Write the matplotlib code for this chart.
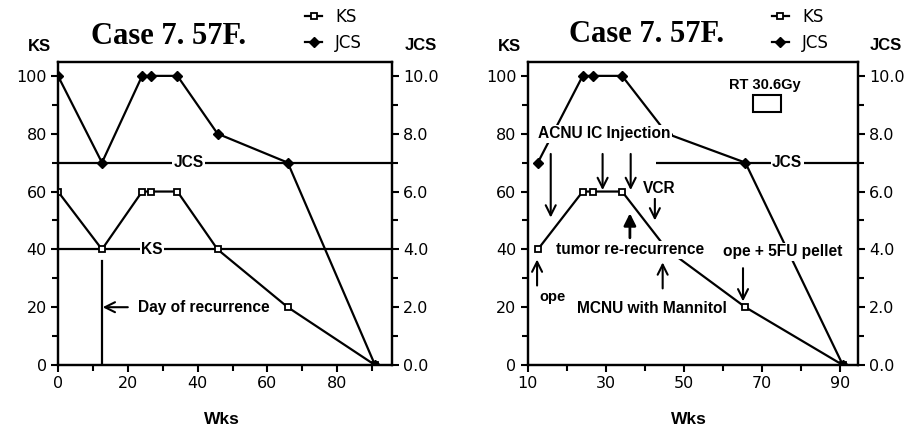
import matplotlib
matplotlib.use("Agg")
import matplotlib.pyplot as plt
from matplotlib.ticker import MultipleLocator, FormatStrFormatter
from matplotlib.patches import Rectangle

# data
weeks = [0, 12.6, 24.1, 26.7, 34.2, 45.7, 65.8, 90.8]
ks = [60, 40, 60, 60, 60, 40, 20, 0]
jcs = [10, 7, 10, 10, 10, 8, 7, 0]

title = "Case 7. 57F."
sans = "Liberation Sans"
wide = "DejaVu Sans"
serif = "Liberation Serif"

plt.rcParams["font.family"] = sans
plt.rcParams["axes.linewidth"] = 1.6

fig = plt.figure(figsize=(9.13, 4.32), dpi=100)
ax_l = fig.add_axes([0.0635, 0.155, 0.366, 0.7015])
ax_r = fig.add_axes([0.578, 0.155, 0.3614, 0.7015])

WHITE = dict(facecolor="white", edgecolor="none", pad=1.0)


def setup(ax, xlim, xmajor, xfirst):
    ax2 = ax.twinx()
    ax.set_xlim(*xlim)
    ax.set_ylim(0, 104.8)
    ax2.set_ylim(0, 10.48)
    ax.xaxis.set_major_locator(MultipleLocator(xmajor))
    ax.xaxis.set_minor_locator(MultipleLocator(xmajor / 2))
    if xfirst:
        ax.set_xticks([t for t in range(xfirst, int(xlim[1]) + 1, xmajor)])
    ax.yaxis.set_major_locator(MultipleLocator(20))
    ax.yaxis.set_minor_locator(MultipleLocator(10))
    ax2.yaxis.set_major_locator(MultipleLocator(2))
    ax2.yaxis.set_minor_locator(MultipleLocator(1))
    ax2.yaxis.set_major_formatter(FormatStrFormatter("%.1f"))
    for a in (ax, ax2):
        a.tick_params(which="major", direction="out", length=5, width=1.5,
                      labelsize=11.5, pad=3)
        a.tick_params(which="minor", direction="out", length=4, width=1.5)
        for lab in a.get_xticklabels() + a.get_yticklabels():
            lab.set_family(wide)
    ax.text(-0.055, 1.05, "KS", transform=ax.transAxes, ha="center",
            va="center", fontsize=12, fontweight="bold")
    ax2.text(1.085, 1.055, "JCS", transform=ax.transAxes, ha="center",
             va="center", fontsize=12, fontweight="bold")
    ax.text(0.49, -0.18, "Wks", transform=ax.transAxes, ha="center",
            va="center", fontsize=12.5, fontweight="bold")
    return ax2


def series(ax, ax2, start):
    ks_line, = ax.plot(weeks[start:], ks[start:], color="black", lw=1.6,
                       marker="s", ms=5, mfc="white", mec="black", mew=1.3,
                       zorder=3)
    jcs_line, = ax2.plot(weeks[start:], jcs[start:], color="black", lw=1.6,
                         marker="D", ms=5, mfc="black", mec="black", zorder=3)
    leg = ax2.legend([ks_line, jcs_line], ["KS", "JCS"], loc="upper left",
                     bbox_to_anchor=(0.72, 1.2), frameon=False,
                     handlelength=1.0, handletextpad=0.8, labelspacing=0.45,
                     borderaxespad=0, prop={"family": wide, "size": 12})
    leg.set_zorder(10)


def note(ax2, ax, x, y, s, size=11.2, ha="center"):
    ax2.text(x, y, s, transform=ax.transData, ha=ha, va="center",
             fontsize=size, fontweight="bold", bbox=WHITE, zorder=6)


def arrow(ax2, ax, xy, xytext, style="->", lw=1.5):
    ax2.annotate("", xy=xy, xytext=xytext, xycoords=ax.transData,
                 textcoords=ax.transData,
                 arrowprops=dict(arrowstyle=style, color="black", lw=lw,
                                 mutation_scale=18, shrinkA=0, shrinkB=0),
                 zorder=5)


# ---- left panel
ax2_l = setup(ax_l, (0, 95.7), 20, None)
series(ax_l, ax2_l, 0)
ax_l.axhline(70, color="black", lw=1.6, zorder=2)
ax_l.axhline(40, color="black", lw=1.6, zorder=2)
note(ax2_l, ax_l, 37.5, 70, "JCS")
note(ax2_l, ax_l, 27, 40, "KS")
ax_l.plot([12.6, 12.6], [0, 36], color="black", lw=1.6)
arrow(ax2_l, ax_l, (12.8, 20), (20, 20))
note(ax2_l, ax_l, 23, 20, "Day of recurrence", ha="left")
ax_l.text(0.33, 1.085, title, transform=ax_l.transAxes, ha="center",
          va="center", fontsize=22, fontweight="bold", family=serif)

# ---- right panel
ax2_r = setup(ax_r, (10, 94.6), 20, 10)
ax_r.xaxis.set_minor_locator(MultipleLocator(10))
series(ax_r, ax2_r, 1)
ax_r.hlines(70, 43, 94.6, color="black", lw=1.6, zorder=2)
note(ax2_r, ax_r, 76.5, 70, "JCS")
note(ax2_r, ax_r, 29.7, 80, "ACNU IC Injection")
arrow(ax2_r, ax_r, (15.9, 51), (15.9, 73))
arrow(ax2_r, ax_r, (29.2, 60.5), (29.2, 73))
arrow(ax2_r, ax_r, (36.4, 60.5), (36.4, 73))
note(ax2_r, ax_r, 43.7, 61, "VCR")
arrow(ax2_r, ax_r, (42.6, 50), (42.6, 57.5))
arrow(ax2_r, ax_r, (36.2, 52.5), (36.2, 44), style="-|>", lw=2.0)
note(ax2_r, ax_r, 36.2, 39.8, "tumor re-recurrence")
arrow(ax2_r, ax_r, (12.4, 36.5), (12.4, 27.5))
ax_r.text(16.3, 23.5, "ope", ha="center", va="center", fontsize=10.5,
          fontweight="bold")
arrow(ax2_r, ax_r, (44.6, 35.5), (44.6, 26.5))
note(ax2_r, ax_r, 41.9, 19.5, "MCNU with Mannitol")
note(ax2_r, ax_r, 75.4, 39.2, "ope + 5FU pellet")
arrow(ax2_r, ax_r, (65.2, 22), (65.2, 33.5))
ax_r.text(70.8, 97, "RT 30.6Gy", ha="center", va="center", fontsize=10.5,
          fontweight="bold")
ax_r.add_patch(Rectangle((67.7, 87.5), 7.2, 6, fill=False, ec="black",
                         lw=1.5))
ax_r.text(0.36, 1.09, title, transform=ax_r.transAxes, ha="center",
          va="center", fontsize=22, fontweight="bold", family=serif)

fig.savefig("out.png", dpi=100)
